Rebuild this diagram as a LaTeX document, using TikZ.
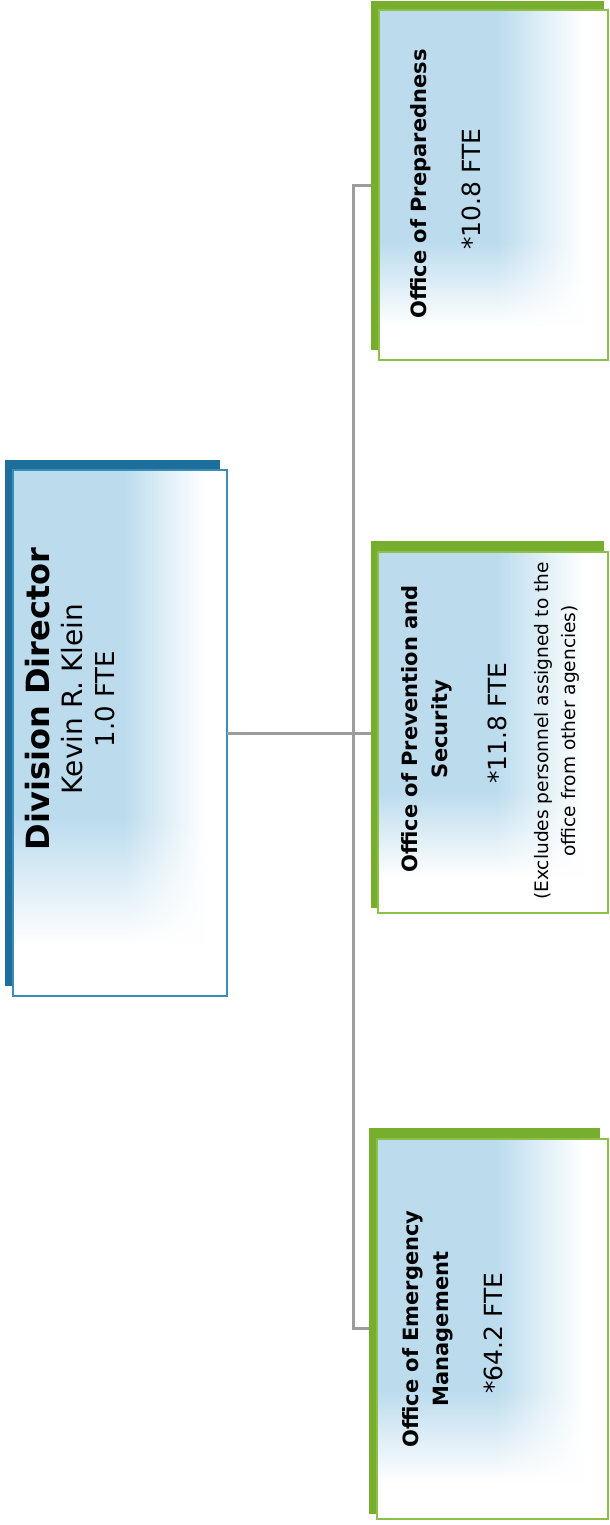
\documentclass[tikz,border=0pt]{standalone}
\usepackage{fontspec}
\setmainfont{DejaVu Sans}
\usetikzlibrary{fit,fadings}

\definecolor{dirBack}{HTML}{1D6E9A}
\definecolor{dirLine}{HTML}{3A8DB8}
\definecolor{grnBack}{HTML}{77AE2E}
\definecolor{grnLine}{HTML}{8CC04A}
\definecolor{paleBlue}{HTML}{BCDCEE}
\colorlet{halfBlue}{paleBlue!45!white}
\definecolor{connGray}{HTML}{9C9C9C}

% pale blue wash fading to white towards the right
% (a path is mapped onto the 25bp--75bp part of a shading)
\pgfdeclarehorizontalshading{hwash}{100bp}{%
  color(0bp)=(paleBlue); color(51bp)=(paleBlue); color(61bp)=(halfBlue);
  color(70bp)=(white); color(100bp)=(white)}
% mask that whitens the lower part of a box
\pgfdeclareverticalshading{vmask}{100bp}{%
  color(0bp)=(white); color(30bp)=(white); color(42bp)=(black); color(100bp)=(black)}
\pgfdeclarefading{fadebottom}{\pgfuseshading{vmask}}

\tikzset{
  box/.style={inner sep=0pt, outer sep=0pt},
  dirback/.style={box, fill=dirBack},
  grnback/.style={box, fill=grnBack},
  front/.style={box, shading=hwash},
  whiten/.style={fill=white, path fading=fadebottom},
  dirrim/.style={draw=dirLine, line width=1pt},
  grnrim/.style={draw=grnLine, line width=1pt},
  conn/.style={draw=connGray, line width=1.5pt},
  rot/.style={rotate=90, align=center, inner sep=0pt},
  dirtext/.style={rot, font=\fontsize{14}{16.25}\selectfont},
  title/.style={rot, font=\bfseries\fontsize{10.5}{15}\selectfont},
  fte/.style={rot, font=\fontsize{12.5}{15}\selectfont},
  note/.style={rot, font=\fontsize{9.3}{13.5}\selectfont},
}

\begin{document}
\begin{tikzpicture}[x=0.5pt, y=-0.5pt]
\path[use as bounding box, fill=white] (0,0) rectangle (610,1525);

% Division director
\node[dirback, fit={(5,460) (220,986)}] (dirBack) {};
\node[front, fit={(13,470) (227,996)}] (dirFront) {};
\fill[whiten] (dirFront.south west) rectangle (dirFront.north east);
\draw[dirrim] (dirFront.south west) rectangle (dirFront.north east);
\node[dirtext] (dirText) at (70.5,699)
  {{\fontsize{16}{16.25}\selectfont\bfseries Division Director}\\Kevin R. Klein\\{\fontsize{13}{16.25}\selectfont 1.0 FTE}};

% Office of Preparedness
\node[grnback, fit={(371,1) (604,350)}] (prepBack) {};
\node[front, fit={(379,10) (608,360)}] (prepFront) {};
\fill[whiten] (prepFront.south west) rectangle (prepFront.north east);
\draw[grnrim] (prepFront.south west) rectangle (prepFront.north east);
\node[title] (prepTitle) at (421,184) {Office of Preparedness};
\node[fte] (prepFte) at (471,189) {*10.8 FTE};

% Office of Prevention and Security
\node[grnback, fit={(371,541) (604,908)}] (prevBack) {};
\node[front, fit={(378,552) (608,913)}] (prevFront) {};
\fill[whiten] (prevFront.south west) rectangle (prevFront.north east);
\draw[grnrim] (prevFront.south west) rectangle (prevFront.north east);
\node[title] (prevTitle) at (427,729) {Office of Prevention and\\Security};
\node[fte] (prevFte) at (497,723) {*11.8 FTE};
\node[note] (prevNote) at (557,731) {(Excludes personnel assigned to the\\office from other agencies)};

% Office of Emergency Management
\node[grnback, fit={(369,1128) (600,1514)}] (emerBack) {};
\node[front, fit={(377,1139) (608,1519)}] (emerFront) {};
\fill[whiten] (emerFront.south west) rectangle (emerFront.north east);
\draw[grnrim] (emerFront.south west) rectangle (emerFront.north east);
\node[title] (emerTitle) at (428,1329) {Office of Emergency\\Management};
\node[fte] (emerFte) at (493,1333) {*64.2 FTE};

% reporting lines
\coordinate (sTop) at (353,185);
\coordinate (sMid) at (353,733);
\coordinate (sBot) at (353,1328);
\draw[conn] (sTop -| prepBack.west) -- (sTop) -- (sBot) -- (sBot -| emerBack.west);
\draw[conn] (dirFront.east |- sMid) -- (sMid -| prevBack.west);
\end{tikzpicture}
\end{document}
